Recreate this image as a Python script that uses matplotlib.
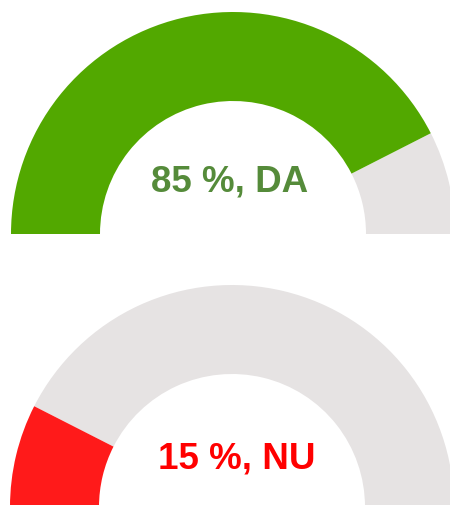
import matplotlib
matplotlib.use("Agg")
import matplotlib.pyplot as plt
from matplotlib.patches import Wedge

# Data
labels = ["DA", "NU"]
values = [85, 15]
fill_colors = ["#52A800", "#FF1A1A"]
text_colors = ["#558B3A", "#FF0000"]
track_color = "#E6E3E3"

W, H = 450, 505
fig = plt.figure(figsize=(W / 100, H / 100), dpi=100)
ax = fig.add_axes([0, 0, 1, 1])
ax.set_xlim(0, W)
ax.set_ylim(0, H)
ax.set_aspect("equal")
ax.axis("off")

centers = [(233, H - 234), (232, H - 507)]
text_pos = [(229.5, H - 182), (236.5, H - 459)]
r_out, r_in = 222, 133

for (cx, cy), v, lab, fc, tc, (tx, ty) in zip(centers, values, labels, fill_colors, text_colors, text_pos):
    split = 180 - 180 * v / 100
    ax.add_patch(Wedge((cx, cy), r_out, 0, split, width=r_out - r_in,
                       facecolor=track_color, edgecolor="none"))
    ax.add_patch(Wedge((cx, cy), r_out, split, 180, width=r_out - r_in,
                       facecolor=fc, edgecolor="none"))
    ax.text(tx, ty, f"{v} %, {lab}", ha="center", va="center",
            fontsize=26.5, fontweight="bold", color=tc,
            family="Liberation Sans")

fig.savefig("out.png", dpi=100)
